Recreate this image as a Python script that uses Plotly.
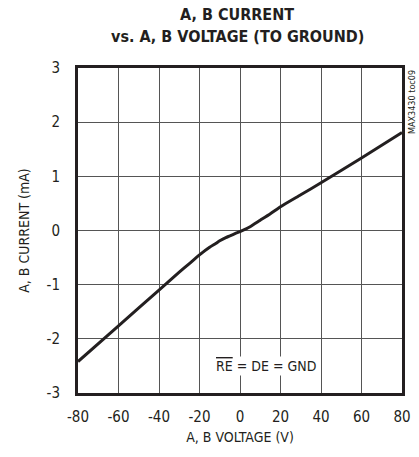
import plotly.graph_objects as go

voltage = [-80, -60, -40, -30, -25, -20, -15, -12, -10, -7, -5, -2, 0, 3, 5, 10, 15, 20, 30, 40, 60, 80]
current = [-2.42, -1.76, -1.10, -0.77, -0.61, -0.45, -0.31, -0.24, -0.19, -0.13, -0.10, -0.05, -0.02, 0.03, 0.07, 0.19, 0.31, 0.44, 0.66, 0.88, 1.34, 1.81]

x_ticks = [-80, -60, -40, -20, 0, 20, 40, 60, 80]
y_ticks = [-3, -2, -1, 0, 1, 2, 3]
title_lines = ["A, B CURRENT", "vs. A, B VOLTAGE (TO GROUND)"]

FONT = "DejaVu Sans Condensed, Liberation Sans Narrow, Arial Narrow, sans-serif"
L, R, T, B = 78, 17, 68, 64
W, H = 419, 457
PW, PH = W - L - R, H - T - B


def px_x(px):
    return (px - L) / PW


def px_y(py):
    return (H - B - py) / PH


fig = go.Figure()
fig.add_trace(go.Scatter(
    x=voltage, y=current, mode="lines",
    line=dict(color="#231f20", width=3, shape="spline", smoothing=0.5),
    showlegend=False, hoverinfo="skip",
))

annotations = [
    dict(x=px_x(237), y=px_y(15), xref="paper", yref="paper",
         xanchor="center", yanchor="middle", showarrow=False,
         text="<b>%s</b>" % title_lines[0],
         font=dict(family=FONT, size=16, color="#231f20")),
    dict(x=px_x(237), y=px_y(37), xref="paper", yref="paper",
         xanchor="center", yanchor="middle", showarrow=False,
         text="<b>%s</b>" % title_lines[1],
         font=dict(family=FONT, size=16, color="#231f20")),
    dict(x=13, y=-2.51, xref="x", yref="y",
         text="<span style='text-decoration:overline'>RE</span> = DE = GND",
         showarrow=False, bgcolor="white", borderpad=1,
         font=dict(family=FONT, size=14, color="#231f20")),
    dict(x=px_x(412), y=px_y(68), xref="paper", yref="paper",
         xanchor="center", yanchor="top",
         text="MAX3430 toc09", textangle=-90, showarrow=False,
         font=dict(family=FONT, size=9, color="#231f20")),
]

fig.update_layout(
    width=W, height=H,
    margin=dict(l=L, r=R, t=T, b=B, autoexpand=False),
    paper_bgcolor="white", plot_bgcolor="white",
    font=dict(family=FONT, color="#231f20", size=14),
    xaxis=dict(
        range=[-80, 80], tickvals=x_ticks, ticktext=[str(v) for v in x_ticks],
        showgrid=True, gridcolor="#555555", gridwidth=1, automargin=False,
        zeroline=False, showline=True, linecolor="#231f20", linewidth=3, mirror=True,
        ticks="", ticklabelstandoff=8,
        title=dict(text="A, B VOLTAGE (V)", font=dict(size=14), standoff=8),
        tickfont=dict(size=15),
    ),
    yaxis=dict(
        range=[-3, 3], tickvals=y_ticks, ticktext=[str(v) for v in y_ticks],
        showgrid=True, gridcolor="#555555", gridwidth=1, automargin=False,
        zeroline=False, showline=True, linecolor="#231f20", linewidth=3, mirror=True,
        ticks="", ticklabelstandoff=12,
        title=dict(text="A, B CURRENT (mA)", font=dict(size=14), standoff=14),
        tickfont=dict(size=15),
    ),
    annotations=annotations,
)

fig.write_html("out.html", config={"displayModeBar": False},
               post_script="document.body.style.margin='0px';")
